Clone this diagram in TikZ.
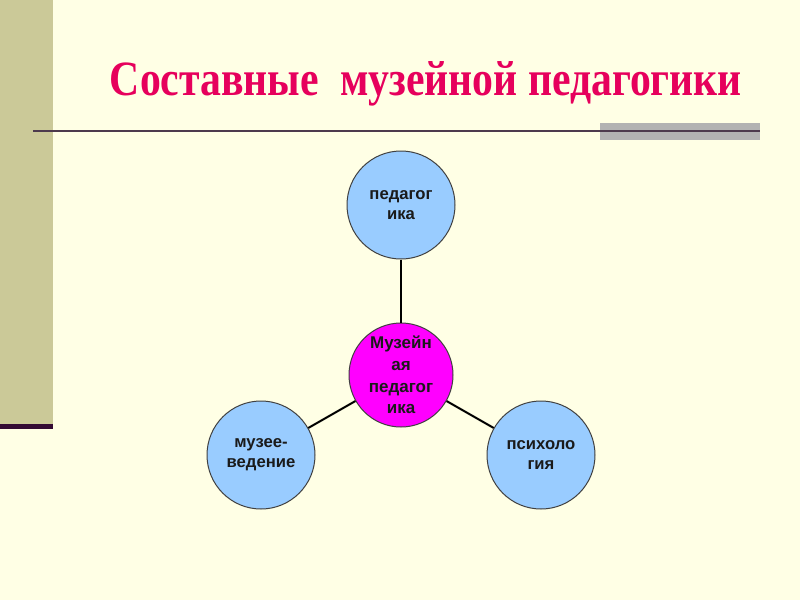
\documentclass[tikz,border=0pt]{standalone}
\usepackage{fontspec}
\setmainfont{Liberation Serif}
\setsansfont{Liberation Sans}
\usepackage{graphicx}
\definecolor{bg}{HTML}{FFFFE5}
\definecolor{stripe}{HTML}{CBC998}
\definecolor{darkbar}{HTML}{330A33}
\definecolor{rule}{HTML}{4D3A4D}
\definecolor{grayrect}{HTML}{B2B2B2}
\definecolor{titlecol}{HTML}{E6005C}
\definecolor{bluefill}{HTML}{99CCFF}
\definecolor{magfill}{HTML}{FF00FF}
\definecolor{ringcol}{HTML}{404040}
\definecolor{txtcol}{HTML}{1A1A1A}
\tikzset{
  outer/.style={circle, draw=ringcol, line width=0.75pt, fill=bluefill, minimum size=81pt, inner sep=0pt,
    align=center, font=\sffamily\bfseries\fontsize{12.5pt}{15pt}\selectfont, text=txtcol},
  hub/.style={outer, fill=magfill, minimum size=78pt, font=\sffamily\bfseries\fontsize{12.75pt}{16.3pt}\selectfont},
  link/.style={draw=black, line width=1.5pt}
}
\begin{document}
\begin{tikzpicture}[x=0.75pt,y=-0.75pt]
\useasboundingbox (0,0) rectangle (800,600);
\fill[bg] (0,0) rectangle (800,600);
\fill[stripe] (0,0) rectangle (53,424);
\fill[darkbar] (0,424) rectangle (53,428.5);
\fill[grayrect] (600,123) rectangle (760,140);
\draw[rule, line width=1.6pt] (33,131) -- (760,131);
\node[anchor=base, text=titlecol, font=\fontsize{37pt}{44pt}\selectfont\bfseries, inner sep=0pt] (title) at (426,95)
  {\resizebox{474pt}{\height}{Составные\ \ музейной педагогики}};
\node[hub] (c) at (401,375) {Музейн\\ая\\педагог\\ика};
\node[outer] (t) at (401,205) {педагог\\ика};
\node[outer] (l) at (261,455) {музее-\\ведение};
\node[outer] (r) at (541,455) {психоло\\гия};
\draw[link] (t) -- (c);
\draw[link] (c) -- (l);
\draw[link] (c) -- (r);
\end{tikzpicture}
\end{document}
